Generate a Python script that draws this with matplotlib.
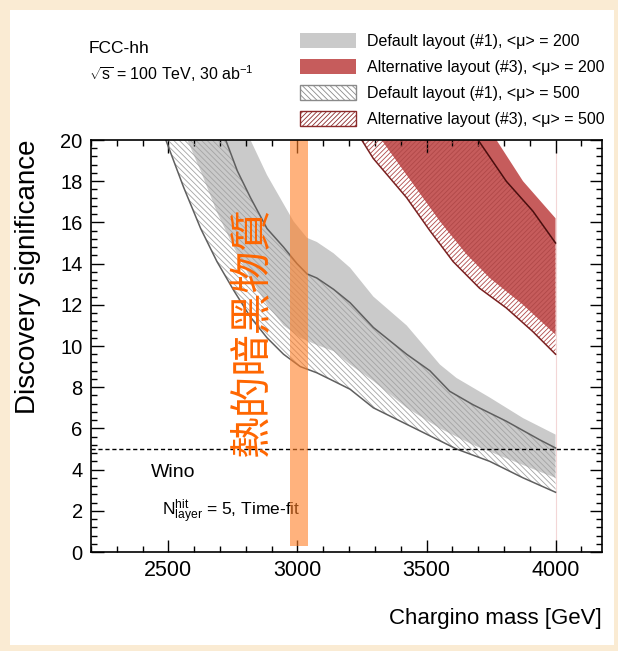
import numpy as np
import matplotlib.pyplot as plt
from matplotlib.patches import Patch, Rectangle
from matplotlib.ticker import MultipleLocator

plt.rcParams['font.family'] = ['Liberation Sans', 'DejaVu Sans']
plt.rcParams['mathtext.fontset'] = 'custom'
plt.rcParams['mathtext.rm'] = 'Liberation Sans'
plt.rcParams['mathtext.it'] = 'Liberation Sans:italic'
plt.rcParams['hatch.linewidth'] = 0.6

# default layout (#1), <mu> = 500 : hatched band, lower / upper line
def500_lo_mass = [2490, 2559, 2625, 2688, 2753, 2818, 2882, 2946, 3011, 3075, 3140, 3204,
                  3294, 3423, 3552, 3616, 3745, 3874, 4000]
def500_lo_sig = [20.0, 17.7, 15.7, 14.1, 12.7, 11.4, 10.4, 9.6, 9.0, 8.7, 8.3, 7.9,
                 7.0, 6.2, 5.4, 5.0, 4.4, 3.6, 2.9]
def500_hi_mass = [2722, 2767, 2818, 2882, 2946, 2998, 3037, 3075, 3140, 3204, 3294, 3423,
                  3513, 3590, 3680, 3809, 3938, 4000]
def500_hi_sig = [20.0, 18.5, 17.2, 15.7, 14.8, 14.0, 13.5, 13.3, 12.75, 12.1, 10.9, 9.6,
                 8.8, 7.8, 7.15, 6.35, 5.45, 5.05]

# default layout (#1), <mu> = 200 : grey band edges
def200_lo_mass = [2573, 2625, 2688, 2753, 2818, 2882, 2946, 3011, 3075, 3140, 3204, 3294,
                  3423, 3552, 3680, 3809, 3938, 4000]
def200_lo_sig = [20.0, 18.5, 16.5, 14.8, 13.3, 12.0, 11.0, 10.4, 10.05, 9.75, 9.1, 8.3,
                 7.0, 6.0, 5.2, 4.55, 3.9, 3.6]
def200_hi_mass = [2818, 2882, 2946, 2985, 3037, 3075, 3140, 3204, 3294, 3423, 3552, 3616,
                  3745, 3874, 4000]
def200_hi_sig = [20.0, 18.3, 16.9, 16.05, 15.25, 15.05, 14.5, 13.8, 12.4, 11.0, 9.1, 8.45,
                 7.5, 6.5, 5.7]

# alternative layout (#3), <mu> = 200 : red band edges
alt200_lo_mass = [3326, 3423, 3552, 3655, 3745, 3874, 4000]
alt200_lo_sig = [20.0, 18.3, 16.05, 14.45, 13.3, 12.0, 10.55]
alt200_hi_mass = [3771, 3874, 4000]
alt200_hi_sig = [20.0, 18.0, 16.2]

# alternative layout (#3), <mu> = 500 : red hatched band
alt500_lo_mass = [3249, 3294, 3423, 3513, 3603, 3706, 3809, 3912, 4000]
alt500_lo_sig = [20.0, 19.1, 17.2, 15.6, 14.1, 12.8, 11.85, 10.7, 9.6]
alt500_hi_mass = [3700, 3809, 3912, 4000]
alt500_hi_sig = [20.0, 18.0, 16.55, 15.0]

discovery_sig = 5
thermal_mass = (2972, 3040)   # highlighted thermal wino mass window
thermal_sig = (0.3, 20)

legend_labels = ['Default layout (#1), <μ> = 200',
                 'Alternative layout (#3), <μ> = 200',
                 'Default layout (#1), <μ> = 500',
                 'Alternative layout (#3), <μ> = 500']


def band(m_lo, s_lo, m_hi, s_hi):
    xs = np.concatenate([m_lo, m_hi[::-1]])
    ys = np.concatenate([s_lo, s_hi[::-1]])
    return xs, ys


W, H = 618, 651
fig = plt.figure(figsize=(W / 100, H / 100), dpi=100, facecolor='#faebd3')
fig.patches.append(Rectangle((10 / W, 6 / H), 604 / W, 635 / H, transform=fig.transFigure,
                             facecolor='white', edgecolor='none', zorder=-10))
ax = fig.add_axes([91 / W, 99 / H, 511 / W, 412 / H])
ax.patch.set_alpha(0)

grey, grey_line, grey_hatch = '#cacaca', '#5f5f5f', '#a4a4a4'
red, red_hatch = '#c65c5c', '#b04848'
hatch_def = '\\' * 6
hatch_alt = '/' * 7

ax.fill(*band(def200_lo_mass, def200_lo_sig, def200_hi_mass, def200_hi_sig),
        facecolor=grey, edgecolor='none', zorder=1)
ax.fill(*band(def500_lo_mass, def500_lo_sig, def500_hi_mass, def500_hi_sig),
        facecolor='none', edgecolor=grey_hatch, lw=0, hatch=hatch_def, zorder=2)
ax.plot(def500_lo_mass, def500_lo_sig, color=grey_line, lw=1.1, zorder=3)
ax.plot(def500_hi_mass, def500_hi_sig, color=grey_line, lw=1.1, zorder=3)

ax.fill(*band(alt200_lo_mass, alt200_lo_sig, alt200_hi_mass, alt200_hi_sig),
        facecolor=red, edgecolor='none', zorder=1)
ax.fill(*band(alt500_lo_mass, alt500_lo_sig, alt500_hi_mass, alt500_hi_sig),
        facecolor='none', edgecolor=red_hatch, lw=0, hatch=hatch_alt, zorder=2)
ax.plot(alt500_lo_mass, alt500_lo_sig, color='#7a2020', lw=1.1, zorder=3)
ax.plot(alt500_hi_mass, alt500_hi_sig, color='#4a0e0e', lw=1.1, zorder=3)
ax.axvline(def500_lo_mass[-1], color='#f3d6d6', lw=0.8, zorder=1)

ax.axhline(discovery_sig, color='black', lw=1.0, ls=(0, (3, 2)), zorder=4)
ax.axvspan(*thermal_mass, ymin=thermal_sig[0] / 20, ymax=thermal_sig[1] / 20,
           color='#ff7f27', alpha=0.6, lw=0, zorder=5)

ax.set_xlim(2200, 4180)
ax.set_ylim(0, 20)
ax.xaxis.set_major_locator(MultipleLocator(500))
ax.xaxis.set_minor_locator(MultipleLocator(100))
ax.yaxis.set_major_locator(MultipleLocator(2))
ax.yaxis.set_minor_locator(MultipleLocator(0.4))
ax.tick_params(which='both', direction='in', top=True, right=True, width=1.0, colors='black')
ax.tick_params(which='major', length=9)
ax.tick_params(which='minor', length=4.5)
ax.tick_params(axis='x', labelsize=15.5, pad=6)
ax.tick_params(axis='y', labelsize=14.5, pad=6)
for sp in ax.spines.values():
    sp.set_linewidth(1.2)
    sp.set_zorder(7)

ax.set_xlabel('Chargino mass [GeV]', fontsize=16, loc='right')
ax.xaxis.set_label_coords(1.0, -0.137)
ax.set_ylabel('Discovery significance', fontsize=20, loc='top')
ax.yaxis.set_label_coords(-0.098, 1.0)

ax.text(0.1168, 0.1813, 'Wino', transform=ax.transAxes, fontsize=14, va='baseline')
ax.text(0.1395, 0.0874, r'N$^{\mathrm{hit}}_{\mathrm{layer}}$ = 5, Time-fit',
        transform=ax.transAxes, fontsize=12.5, va='baseline')
ax.text(0.317, 0.534, '熱的暗黑物質', transform=ax.transAxes, rotation=90,
        ha='center', va='center', fontsize=30, color='#ff6600',
        family=['Noto Sans CJK TC', 'DejaVu Sans'], zorder=6)

fig.text(89 / W, 1 - 53 / H, 'FCC-hh', fontsize=12.5, va='baseline')
fig.text(89 / W, 1 - 80 / H, r'$\sqrt{\mathrm{s}}$ = 100 TeV, 30 ab$^{-1}$',
         fontsize=11.5, va='baseline')

handles = [Patch(facecolor=grey, edgecolor='none'),
           Patch(facecolor=red, edgecolor='none'),
           Patch(facecolor='white', edgecolor='#8a8a8a', hatch=hatch_def, lw=1),
           Patch(facecolor='white', edgecolor='#8b2a2a', hatch=hatch_alt, lw=1)]
fig.legend(handles, legend_labels, loc='upper left', bbox_to_anchor=(300 / W, 1 - 33 / H),
           frameon=False, borderpad=0, borderaxespad=0, handlelength=3.5, handleheight=1.1,
           handletextpad=0.7, labelspacing=0.62, prop={'size': 11.5})

fig.savefig('out.png', dpi=100, facecolor=fig.get_facecolor())
